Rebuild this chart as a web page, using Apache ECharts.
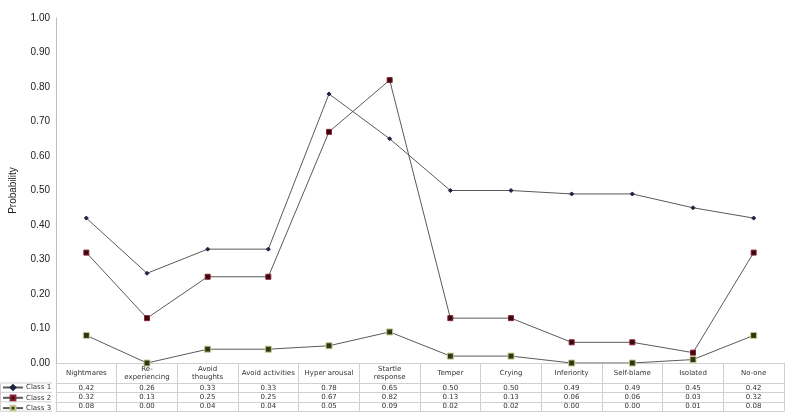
<!DOCTYPE html>
<html lang="en">
<head>
    <meta charset="UTF-8">
    <title>Class probabilities</title>
    <script src="https://cdn.jsdelivr.net/npm/echarts@6/dist/echarts.min.js"></script>
    <style>
        html, body { margin: 0; padding: 0; background: #fff; }
    </style>
</head>
<body>
    <div id="main" style="width: 787px;height: 414px;"></div>
    <script>
        var chart = echarts.init(document.getElementById('main'));

        var categories = ['Nightmares', 'Re-\nexperiencing', 'Avoid\nthoughts', 'Avoid activities', 'Hyper arousal',
            'Startle\nresponse', 'Temper', 'Crying', 'Inferiority', 'Self-blame', 'Isolated', 'No-one'];
        var seriesNames = ['Class 1', 'Class 2', 'Class 3'];
        var class1 = [0.42, 0.26, 0.33, 0.33, 0.78, 0.65, 0.50, 0.50, 0.49, 0.49, 0.45, 0.42];
        var class2 = [0.32, 0.13, 0.25, 0.25, 0.67, 0.82, 0.13, 0.13, 0.06, 0.06, 0.03, 0.32];
        var class3 = [0.08, 0.00, 0.04, 0.04, 0.05, 0.09, 0.02, 0.02, 0.00, 0.00, 0.01, 0.08];
        var yTicks = { min: 0, max: 1, interval: 0.1 };

        var tableFont = 'DejaVu Sans';
        var tableColor = '#333';
        var borderColor = '#d0d0d0';
        var rows = [class1, class2, class3];
        var headerH = 20, rowH = 9.4;

        // the header axis plus one axis per table row, stacked with offset
        var xAxes = [{
            type: 'category',
            data: categories,
            position: 'bottom',
            boundaryGap: true,
            axisLine: { lineStyle: { color: borderColor } },
            axisTick: { show: true, length: headerH, lineStyle: { color: borderColor } },
            axisLabel: {
                interval: 0, margin: headerH / 2, verticalAlign: 'middle',
                fontFamily: tableFont, fontSize: 7, lineHeight: 8, color: tableColor
            }
        }];
        rows.forEach(function (vals, k) {
            xAxes.push({
                type: 'category',
                data: categories,
                position: 'bottom',
                offset: headerH + rowH * k,
                boundaryGap: true,
                axisLine: { lineStyle: { color: borderColor } },
                axisTick: { show: true, length: rowH, lineStyle: { color: borderColor } },
                axisLabel: {
                    interval: 0, margin: rowH / 2, verticalAlign: 'middle',
                    fontFamily: tableFont, fontSize: 7, color: tableColor,
                    formatter: function (v, i) { return vals[i].toFixed(2); }
                }
            });
        });
        xAxes.push({
            type: 'category',
            data: categories,
            position: 'bottom',
            offset: headerH + rowH * 3,
            axisLine: { lineStyle: { color: borderColor } },
            axisTick: { show: false },
            axisLabel: { show: false }
        });

        var tableTop = 414 - 51 + headerH;
        var leftBorders = [];
        for (var r = 0; r <= 3; r++) {
            leftBorders.push({
                type: 'line',
                shape: { x1: 0.5, y1: tableTop + rowH * r, x2: 52, y2: tableTop + rowH * r },
                style: { stroke: borderColor, lineWidth: 1 }
            });
        }
        leftBorders.push({
            type: 'line',
            shape: { x1: 0.5, y1: tableTop, x2: 0.5, y2: tableTop + rowH * 3 },
            style: { stroke: borderColor, lineWidth: 1 }
        });

        var markers = [
            { symbol: 'diamond', size: 4, fill: '#1b2440', border: '#1b2440' },
            { symbol: 'rect', size: 5, fill: '#33080f', border: '#8a2030' },
            { symbol: 'rect', size: 6, fill: '#2c3814', border: '#c9c98e' }
        ];

        var option = {
            animation: false,
            backgroundColor: '#fff',
            grid: { left: 52, right: 3, top: 18, bottom: 51 },
            legend: {
                orient: 'vertical',
                left: 2,
                top: tableTop + 1,
                itemWidth: 20,
                itemHeight: 6,
                itemGap: rowH - 6 - 0.1,
                padding: 0,
                textStyle: { fontFamily: tableFont, fontSize: 7, color: tableColor, padding: [0, 0, 0, -2] },
                data: seriesNames
            },
            xAxis: xAxes,
            yAxis: {
                type: 'value',
                min: yTicks.min,
                max: yTicks.max,
                interval: yTicks.interval,
                name: 'Probability',
                nameLocation: 'middle',
                nameGap: 38,
                nameTextStyle: { fontFamily: 'Liberation Sans', fontSize: 10, color: '#222' },
                axisLine: { show: true, lineStyle: { color: '#bdbdbd' } },
                axisTick: { show: false },
                splitLine: { show: false },
                axisLabel: {
                    margin: 6, fontFamily: 'Liberation Sans', fontSize: 10, color: '#222',
                    formatter: function (v) { return v.toFixed(2); }
                }
            },
            graphic: leftBorders,
            series: rows.map(function (vals, k) {
                return {
                    type: 'line',
                    name: seriesNames[k],
                    data: vals,
                    symbol: markers[k].symbol,
                    symbolSize: markers[k].size,
                    lineStyle: { color: '#5a5a5a', width: 1 },
                    itemStyle: { color: markers[k].fill, borderColor: markers[k].border, borderWidth: 1 },
                    z: 3 - k
                };
            })
        };
        chart.setOption(option);
    </script>
</body>
</html>
